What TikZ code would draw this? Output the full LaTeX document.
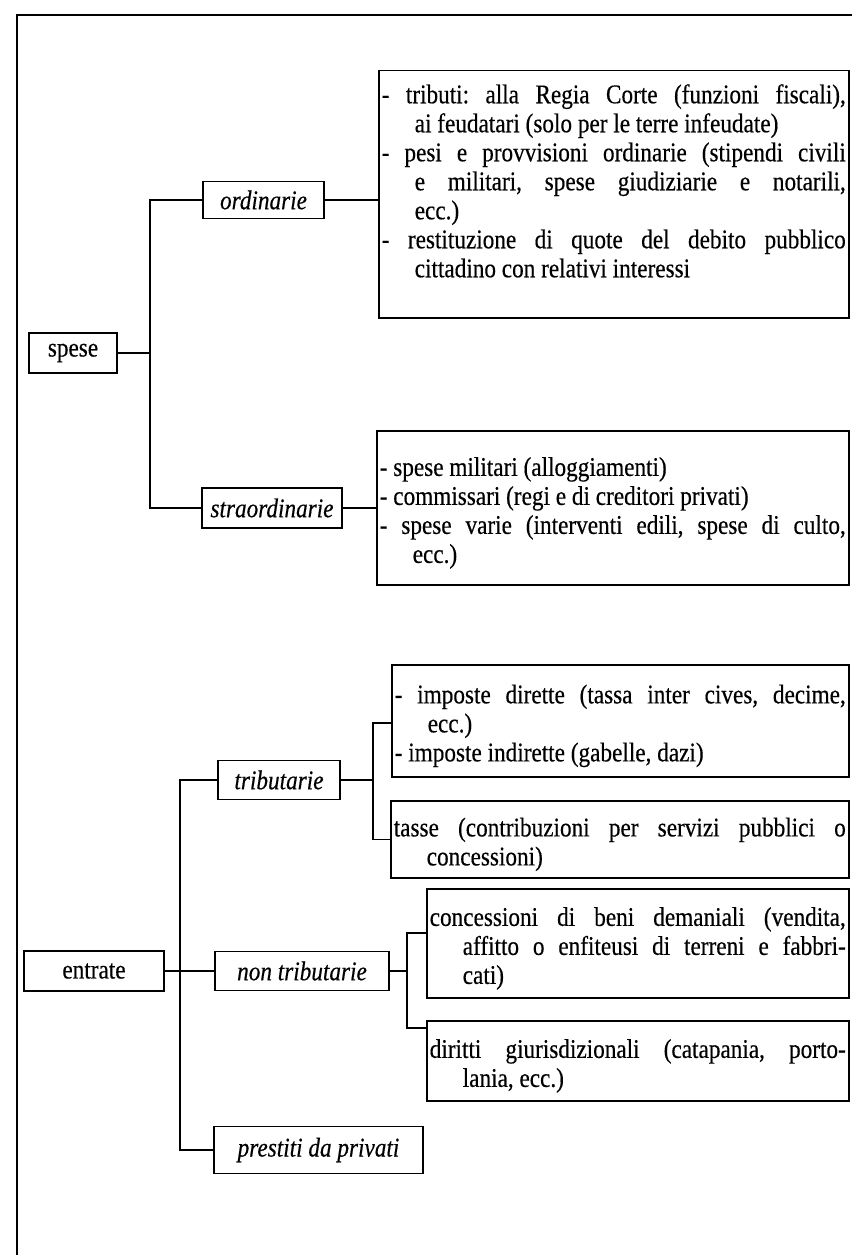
\documentclass[tikz,border=0pt]{standalone}
\usepackage{fontspec}
\setmainfont{Liberation Serif}[FakeStretch=0.86, FakeBold=0.4]
\usetikzlibrary{positioning}
\frenchspacing
\tikzset{
  cat/.style={draw, line width=1.5pt, inner sep=0pt, minimum height=40pt, font=\fontsize{27}{29}\selectfont},
  cati/.style={cat, font=\fontsize{27}{29}\selectfont\itshape},
  lst/.style={draw, line width=1.5pt, anchor=north west, inner xsep=3pt, inner ysep=0pt, align=justify, font=\fontsize{27}{29}\selectfont},
  link/.style={line width=1.5pt},
  frame/.style={line width=1.6pt},
}
\newcommand{\itm}{\par\hangindent=33pt\hangafter=1 }

\begin{document}
\begin{tikzpicture}[x=1pt,y=-1pt]
  \useasboundingbox (0,0) rectangle (852,1255);
  \draw[frame] (852,15) -- (17,15) -- (17,1255);
  % spese
  \node[cat, minimum width=88pt] (spese) at (73,353) {spese};
  \node[cati, minimum width=121pt, minimum height=37pt] (ord) at (263.5,200) {ordinarie};
  \node[cati, minimum width=140pt] (straord) at (272,508) {straordinarie};
  \node[lst, text width=464pt, minimum height=247pt, text depth=240pt] (lord) at (378,70) {%
    \itm - tributi: alla Regia Corte (funzioni fiscali),\linebreak ai feudatari (solo per le terre infeudate)
    \itm - pesi e provvisioni ordinarie (stipendi civili\linebreak e militari, spese giudiziarie e notarili,\linebreak ecc.)
    \itm - restituzione di quote del debito pubblico\linebreak cittadino con relativi interessi\par};
  \node[lst, text width=466pt, minimum height=154pt] (lstr) at (376,430) {%
    \itm - spese militari (alloggiamenti)
    \itm - commissari (regi e di creditori privati)
    \itm - spese varie (interventi edili, spese di culto,\linebreak ecc.)\par};
  \coordinate (js) at (150,353);
  \draw[link] (spese) -- (js);
  \draw[link] (js) |- (ord);
  \draw[link] (js) |- (straord);
  \draw[link] (ord.east) -- (ord.east -| lord.west);
  \draw[link] (straord.east) -- (straord.east -| lstr.west);
  % entrate
  \node[cat, minimum width=140pt] (entr) at (94,971) {entrate};
  \node[cati, minimum width=122pt, minimum height=39pt] (trib) at (279,780) {tributarie};
  \node[cati, minimum width=174pt, minimum height=39pt] (ntrib) at (302,971) {non tributarie};
  \node[cati, minimum width=209pt, minimum height=47pt] (prest) at (318.5,1150) {prestiti da privati};
  \node[lst, text width=451pt, minimum height=112pt] (limp) at (391,664) {%
    \itm - imposte dirette (tassa inter cives, decime,\linebreak ecc.)
    \itm - imposte indirette (gabelle, dazi)\par};
  \node[lst, text width=452pt, minimum height=77pt] (ltas) at (390,800) {%
    \itm tasse (contribuzioni per servizi pubblici o\linebreak concessioni)\par};
  \node[lst, text width=416pt, minimum height=109pt] (lcon) at (426,888) {%
    \itm concessioni di beni demaniali (vendita,\linebreak affitto o enfiteusi di terreni e fabbri-\linebreak cati)\par};
  \node[lst, text width=416pt, minimum height=80pt] (ldir) at (426,1020) {%
    \itm diritti giurisdizionali (catapania, porto-\linebreak lania, ecc.)\par};
  \coordinate (je) at (180,971);
  \coordinate (jt) at (373,780);
  \coordinate (jn) at (407,971);
  \draw[link] (entr) -- (je);
  \draw[link] (je) |- (trib);
  \draw[link] (je) -- (ntrib);
  \draw[link] (je) |- (prest);
  \draw[link] (trib) -- (jt);
  \draw[link] (jt) |- ([yshift=-59pt]limp.north west);
  \draw[link] (jt) |- (ltas);
  \draw[link] (ntrib) -- (jn);
  \draw[link] (jn) |- ([yshift=-45pt]lcon.north west);
  \draw[link] (jn) |- ([yshift=-8pt]ldir.north west);
\end{tikzpicture}
\end{document}
